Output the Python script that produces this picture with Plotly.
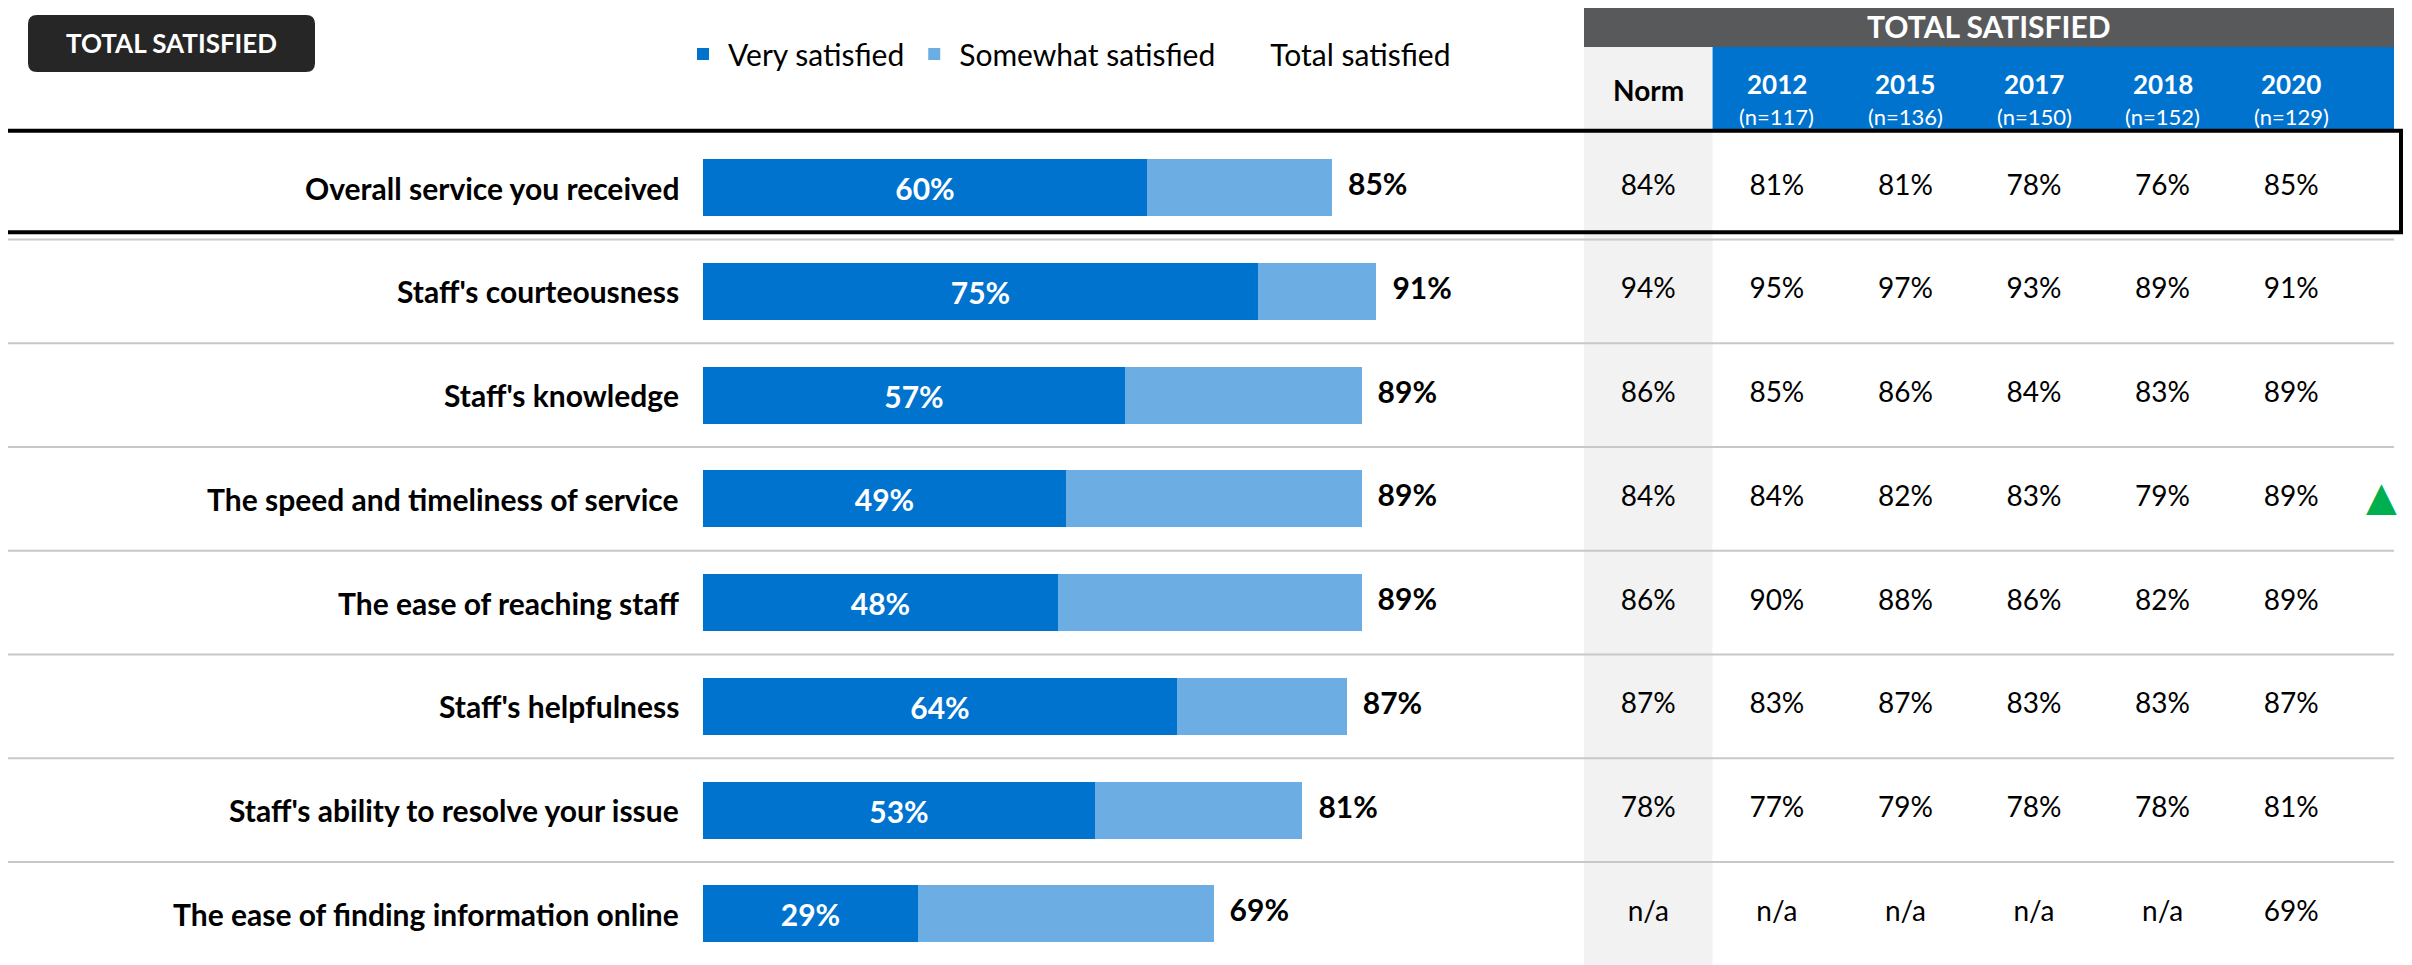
import plotly.graph_objects as go

# ---------------- data ----------------
categories = [
    "Overall service you received",
    "Staff's courteousness",
    "Staff's knowledge",
    "The speed and timeliness of service",
    "The ease of reaching staff",
    "Staff's helpfulness",
    "Staff's ability to resolve your issue",
    "The ease of finding information online",
]
very_satisfied = [60, 75, 57, 49, 48, 64, 53, 29]
somewhat_satisfied = [25, 16, 32, 40, 41, 23, 28, 40]
total_satisfied = [85, 91, 89, 89, 89, 87, 81, 69]

table_columns = ["Norm", "2012", "2015", "2017", "2018", "2020"]
sample_sizes = ["", "(n=117)", "(n=136)", "(n=150)", "(n=152)", "(n=129)"]
norm_values = [84, 94, 86, 84, 86, 87, 78, None]
values_2012 = [81, 95, 85, 84, 90, 83, 77, None]
values_2015 = [81, 97, 86, 82, 88, 87, 79, None]
values_2017 = [78, 93, 84, 83, 86, 83, 78, None]
values_2018 = [76, 89, 83, 79, 82, 83, 78, None]
values_2020 = [85, 91, 89, 89, 89, 87, 81, 69]
table_values = [norm_values, values_2012, values_2015, values_2017, values_2018, values_2020]

significant_up = [("The speed and timeliness of service", "2020")]
highlight_row = "Overall service you received"

# ---------------- styling ----------------
PAGE_W, PAGE_H = 2412, 965
OFF = 8  # default body margin of the html page
W, H = PAGE_W - OFF, PAGE_H - OFF
FONT = "Lato"
DARK_BLUE = "#0073CF"
LIGHT_BLUE = "#6CADE3"
HEADER_GRAY = "#58595B"
NORM_GRAY = "#F2F2F2"
BADGE = "#262626"


def px(x):
    return (x - OFF) / W


def py(y):
    return 1 - (y - OFF) / H


def fmt(v):
    return "n/a" if v is None else f"{v}%"


fig = go.Figure()

fig.add_trace(go.Bar(
    name="Very satisfied", y=categories, x=very_satisfied, orientation="h",
    marker=dict(color=DARK_BLUE, line=dict(width=0)), width=0.55,
    text=[f"{v}%" for v in very_satisfied], textposition="inside",
    insidetextanchor="middle", textangle=0, constraintext="none",
    textfont=dict(family=FONT, size=30, color="white", weight="bold"),
    xaxis="x", yaxis="y", hoverinfo="skip",
))
fig.add_trace(go.Bar(
    name="Somewhat satisfied", y=categories, x=somewhat_satisfied, orientation="h",
    marker=dict(color=LIGHT_BLUE, line=dict(width=0)), width=0.55,
    xaxis="x", yaxis="y", hoverinfo="skip",
))
fig.add_trace(go.Scatter(
    name="Total satisfied", y=categories, x=total_satisfied, mode="markers+text",
    marker=dict(size=24, color="rgba(0,0,0,0)", opacity=0),
    text=[f"{v}%" for v in total_satisfied], textposition="middle right",
    textfont=dict(family=FONT, size=30, color="black", weight="bold"),
    cliponaxis=False, xaxis="x", yaxis="y", hoverinfo="skip",
))

# table values
for col, vals in zip(table_columns, table_values):
    fig.add_trace(go.Scatter(
        x=[col] * len(categories), y=categories, mode="text",
        text=[fmt(v) for v in vals], textposition="middle center",
        textfont=dict(family=FONT, size=28, color="black"),
        cliponaxis=False, showlegend=False, xaxis="x2", yaxis="y", hoverinfo="skip",
    ))

shapes = []
annotations = []

# norm column shading
shapes.append(dict(type="rect", xref="x2", yref="paper", x0=-0.5, x1=0.5,
                   y0=0, y1=py(47), fillcolor=NORM_GRAY, line=dict(width=0), layer="below"))
# table header bars
shapes.append(dict(type="rect", xref="x2", yref="paper", x0=-0.5, x1=5.8,
                   y0=py(47), y1=py(5), fillcolor=HEADER_GRAY, line=dict(width=0), layer="below"))
shapes.append(dict(type="rect", xref="x2", yref="paper", x0=0.5, x1=5.8,
                   y0=py(131), y1=py(47), fillcolor=DARK_BLUE, line=dict(width=0), layer="below"))

# row separators
for i in range(len(categories) - 1):
    shapes.append(dict(type="line", xref="paper", yref="y", x0=px(8), x1=px(2394),
                       y0=i + 0.5, y1=i + 0.5, line=dict(color="#C8C8C8", width=2), layer="below"))

# highlight box
hi = categories.index(highlight_row)
shapes.append(dict(type="rect", xref="paper", yref="y", x0=px(6), x1=px(2401),
                   y0=hi - 0.55, y1=hi + 0.43, line=dict(color="black", width=4),
                   fillcolor="rgba(0,0,0,0)", layer="above"))

# rounded badge
bx0, bx1, by0, by1, r = 28, 315, 15, 72, 9
path = (f"M {px(bx0 + r)},{py(by0)} L {px(bx1 - r)},{py(by0)} "
        f"Q {px(bx1)},{py(by0)} {px(bx1)},{py(by0 + r)} L {px(bx1)},{py(by1 - r)} "
        f"Q {px(bx1)},{py(by1)} {px(bx1 - r)},{py(by1)} L {px(bx0 + r)},{py(by1)} "
        f"Q {px(bx0)},{py(by1)} {px(bx0)},{py(by1 - r)} L {px(bx0)},{py(by0 + r)} "
        f"Q {px(bx0)},{py(by0)} {px(bx0 + r)},{py(by0)} Z")
shapes.append(dict(type="path", xref="paper", yref="paper", path=path,
                   fillcolor=BADGE, line=dict(width=0)))
annotations.append(dict(xref="paper", yref="paper", x=px((bx0 + bx1) / 2), y=py((by0 + by1) / 2),
                        text="<b>TOTAL SATISFIED</b>", showarrow=False,
                        font=dict(family=FONT, size=26, color="white"),
                        xanchor="center", yanchor="middle"))

# row labels
for c in categories:
    annotations.append(dict(xref="paper", yref="y", x=px(681), y=c, text=f"<b>{c}</b>",
                            showarrow=False, xanchor="right", yanchor="middle",
                            font=dict(family=FONT, size=30, color="black")))

# table header texts
annotations.append(dict(xref="paper", yref="paper", x=px(1989), y=py(26),
                        text="<b>TOTAL SATISFIED</b>", showarrow=False,
                        font=dict(family=FONT, size=30, color="white"),
                        xanchor="center", yanchor="middle"))
for j, (col, n) in enumerate(zip(table_columns, sample_sizes)):
    if col == "Norm":
        annotations.append(dict(xref="x2", yref="paper", x=j, y=py(90), text="<b>Norm</b>",
                                showarrow=False, font=dict(family=FONT, size=28, color="black"),
                                xanchor="center", yanchor="middle"))
    else:
        annotations.append(dict(xref="x2", yref="paper", x=j, y=py(84), text=f"<b>{col}</b>",
                                showarrow=False, font=dict(family=FONT, size=26, color="white"),
                                xanchor="center", yanchor="middle"))
        annotations.append(dict(xref="x2", yref="paper", x=j, y=py(116), text=n,
                                showarrow=False, font=dict(family=FONT, size=22, color="white"),
                                xanchor="center", yanchor="middle"))

# significance markers
for row, col in significant_up:
    annotations.append(dict(xref="x2", yref="y", x=table_columns.index(col), y=row, text="▲",
                            xshift=90, yshift=3, showarrow=False,
                            font=dict(family="DejaVu Sans", size=40, color="#00B050"),
                            xanchor="center", yanchor="middle"))

fig.update_layout(
    width=W, height=H,
    margin=dict(l=0, r=0, t=0, b=0),
    paper_bgcolor="white", plot_bgcolor="rgba(0,0,0,0)",
    barmode="stack", bargap=0,
    font=dict(family=FONT, color="black"),
    hovermode=False,
    showlegend=True,
    legend=dict(orientation="h", x=px(678), y=py(54), xanchor="left", yanchor="middle",
                font=dict(family=FONT, size=30, color="black"), bgcolor="rgba(0,0,0,0)",
                traceorder="normal", itemwidth=40),
    xaxis=dict(domain=[px(703), px(1443)], range=[0, 100], anchor="y",
               showgrid=False, zeroline=False, showticklabels=False, showline=False),
    xaxis2=dict(domain=[px(1584), px(2394)], range=[-0.5, 5.8], anchor="y",
                type="category", categoryorder="array", categoryarray=table_columns,
                showgrid=False, zeroline=False, showticklabels=False, showline=False),
    yaxis=dict(domain=[0, py(120)], range=[7.494, -0.653], type="category",
               categoryorder="array", categoryarray=categories,
               showgrid=False, zeroline=False, showticklabels=False, showline=False),
    shapes=shapes,
    annotations=annotations,
)

fig.write_html("out.html")
